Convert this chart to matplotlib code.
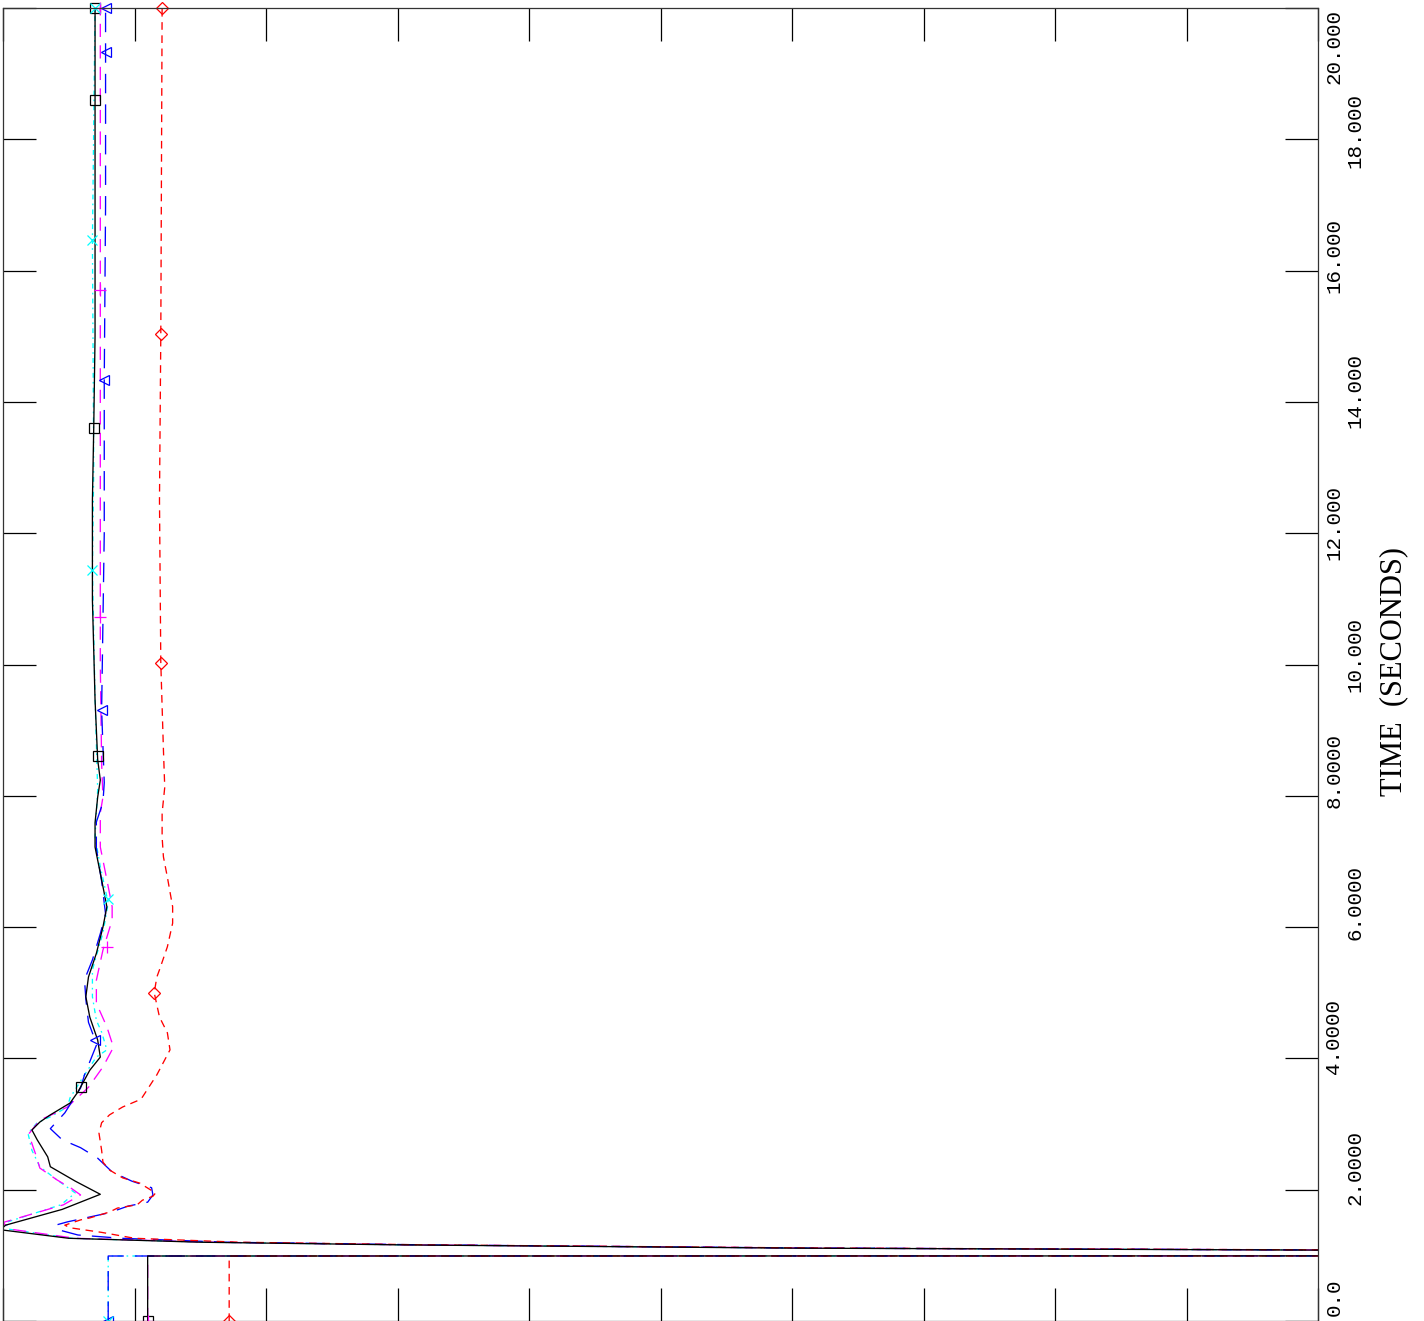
import matplotlib
matplotlib.use("Agg")
import matplotlib.pyplot as plt
import matplotlib.transforms as mtransforms

plt.rcParams["lines.scale_dashes"] = False

# time (s) on the vertical axis, response value on the horizontal axis
t_blk = [0.0, 0.99, 1.00, 1.08, 1.11, 1.16, 1.20, 1.26, 1.39, 1.46, 1.70, 1.93, 2.13,
         2.35, 2.50, 2.76, 2.91, 3.03, 3.14, 3.32, 3.49, 3.82, 4.02, 4.28, 4.63, 4.94,
         5.24, 5.60, 6.00, 6.31, 6.72, 7.22, 7.59, 7.98, 8.24, 8.55, 9.46, 10.98, 12.5,
         13.6, 15.0, 17.0, 18.6, 20.0]
v_blk = [1.10, 1.10, 60.0, 10.0, 6.0, 3.0, 1.5, 0.50, -0.02, 0.02, 0.45, 0.74, 0.55,
         0.36, 0.34, 0.26, 0.22, 0.28, 0.36, 0.51, 0.57, 0.66, 0.74, 0.72, 0.66, 0.63,
         0.65, 0.71, 0.76, 0.79, 0.75, 0.70, 0.70, 0.72, 0.74, 0.72, 0.70, 0.68, 0.68,
         0.69, 0.70, 0.70, 0.70, 0.70]

t_red = [0.0, 0.99, 1.00, 1.08, 1.11, 1.16, 1.20, 1.26, 1.35, 1.42, 1.46, 1.54, 1.57,
         1.66, 1.72, 1.77, 1.84, 1.90, 1.95, 2.10, 2.18, 2.30, 2.42, 2.60, 2.86, 3.02,
         3.14, 3.26, 3.37, 3.41, 3.75, 4.13, 4.39, 4.63, 5.00, 5.24, 5.35, 5.70, 6.06,
         6.31, 6.76, 7.07, 7.37, 7.74, 8.13, 8.70, 10.02, 12.5, 15.03, 20.0]
v_red = [1.72, 1.72, 60.0, 10.5, 6.3, 3.2, 1.8, 1.0, 0.75, 0.51, 0.47, 0.59, 0.66,
         0.81, 0.87, 1.02, 1.06, 1.14, 1.16, 1.04, 0.91, 0.81, 0.76, 0.75, 0.73, 0.75,
         0.81, 0.91, 1.04, 1.06, 1.17, 1.27, 1.25, 1.19, 1.15, 1.17, 1.19, 1.25, 1.29,
         1.29, 1.25, 1.22, 1.21, 1.21, 1.23, 1.22, 1.20, 1.19, 1.20, 1.21]

t_blu = [0.0, 0.99, 1.00, 1.08, 1.11, 1.16, 1.20, 1.26, 1.31, 1.39, 1.46, 1.51, 1.58,
         1.65, 1.75, 1.81, 1.92, 2.03, 2.13, 2.27, 2.48, 2.64, 2.76, 2.93, 3.17, 3.55,
         3.75, 4.20, 4.28, 4.55, 4.90, 5.20, 5.50, 5.90, 6.20, 6.70, 7.20, 7.60, 7.90,
         8.20, 9.31, 12.0, 14.33, 17.0, 19.33, 20.0]
v_blu = [0.80, 0.80, 60.0, 10.3, 6.2, 3.2, 1.7, 0.90, 0.57, 0.42, 0.40, 0.49, 0.65,
         0.81, 0.95, 1.10, 1.14, 1.13, 0.98, 0.83, 0.72, 0.59, 0.45, 0.36, 0.47, 0.59,
         0.62, 0.71, 0.70, 0.65, 0.63, 0.62, 0.68, 0.74, 0.78, 0.75, 0.71, 0.71, 0.76,
         0.77, 0.75, 0.77, 0.77, 0.78, 0.78, 0.78]

t_mag = [0.0, 0.99, 1.00, 1.08, 1.11, 1.16, 1.20, 1.26, 1.40, 1.50, 1.77, 1.92, 2.02,
         2.15, 2.33, 2.53, 2.76, 2.86, 3.06, 3.17, 3.26, 3.56, 3.87, 4.17, 4.48, 4.84,
         5.19, 5.65, 6.11, 6.31, 6.72, 7.22, 7.74, 7.98, 8.5, 10.0, 12.0, 15.0, 20.0]
v_mag = [1.10, 1.10, 60.0, 10.3, 6.2, 3.1, 1.6, 0.55, 0.05, 0.0, 0.46, 0.59, 0.52,
         0.41, 0.28, 0.25, 0.21, 0.20, 0.28, 0.40, 0.49, 0.65, 0.76, 0.84, 0.79, 0.71,
         0.71, 0.76, 0.83, 0.83, 0.79, 0.74, 0.74, 0.76, 0.75, 0.74, 0.74, 0.74, 0.74]

t_cyn = [0.0, 0.99, 1.00, 1.08, 1.11, 1.16, 1.20, 1.26, 1.40, 1.50, 1.77, 1.95, 2.15,
         2.35, 2.60, 2.86, 3.02, 3.11, 3.26, 3.40, 3.72, 4.02, 4.13, 4.40, 4.58, 4.94,
         5.35, 5.91, 6.37, 6.92, 7.37, 7.74, 8.09, 9.5, 11.44, 13.0, 16.45, 20.0]
v_cyn = [0.80, 0.80, 60.0, 10.2, 6.1, 3.05, 1.55, 0.52, 0.04, 0.02, 0.44, 0.55, 0.41,
         0.28, 0.22, 0.19, 0.26, 0.36, 0.49, 0.51, 0.61, 0.71, 0.79, 0.75, 0.71, 0.68,
         0.68, 0.76, 0.80, 0.74, 0.70, 0.71, 0.72, 0.70, 0.68, 0.69, 0.68, 0.70]

# symbol positions along each curve
mk_blk_t = [0.0, 3.57, 8.6, 13.6, 18.6, 20.0]
mk_blk_v = [1.10, 0.59, 0.72, 0.69, 0.70, 0.70]
mk_red_t = [0.0, 5.0, 10.02, 15.03, 20.0]
mk_red_v = [1.72, 1.15, 1.20, 1.20, 1.21]
mk_blu_t = [0.0, 4.28, 9.31, 14.33, 19.33, 20.0]
mk_blu_v = [0.80, 0.70, 0.75, 0.77, 0.78, 0.78]
mk_mag_t = [0.0, 5.7, 10.72, 15.7, 20.0]
mk_mag_v = [1.10, 0.79, 0.74, 0.74, 0.74]
mk_cyn_t = [0.0, 6.43, 11.44, 16.47, 20.0]
mk_cyn_v = [0.80, 0.80, 0.68, 0.68, 0.70]

time_ticks = [0, 2, 4, 6, 8, 10, 12, 14, 16, 18, 20]
time_labels = ["0.0", "2.0000", "4.0000", "6.0000", "8.0000", "10.000",
               "12.000", "14.000", "16.000", "18.000", "20.000"]
value_ticks = [0, 1, 2, 3, 4, 5, 6, 7, 8, 9, 10]

W, H = 1424, 1321
fig = plt.figure(figsize=(W / 100, H / 100), dpi=100)
ax = fig.add_axes([3 / W, 0, 1315 / W, 1313 / H])

lw = 0.95
ax.plot(v_cyn, t_cyn, color="#00ffff", lw=lw, ls=(0, (3.5, 3, 1.2, 3)))
ax.plot(v_mag, t_mag, color="#ff00ff", lw=lw, ls=(0, (9.5, 6)))
ax.plot(v_blu, t_blu, color="#0000ff", lw=lw, ls=(0, (14, 8)))
ax.plot(v_red, t_red, color="#ff0000", lw=lw, ls=(0, (5.5, 4)))
ax.plot(v_blk, t_blk, color="black", lw=lw)

ms = 7
ax.plot(mk_blk_v, mk_blk_t, ls="none", marker="s", ms=ms, mfc="none", mec="black", mew=0.9, clip_on=False)
ax.plot(mk_red_v, mk_red_t, ls="none", marker="D", ms=6, mfc="none", mec="#ff0000", mew=0.9, clip_on=False)
ax.plot(mk_blu_v, mk_blu_t, ls="none", marker="<", ms=ms, mfc="none", mec="#0000ff", mew=0.9, clip_on=False)
ax.plot(mk_mag_v, mk_mag_t, ls="none", marker="+", ms=9, mec="#ff00ff", mew=0.9, clip_on=False)
ax.plot(mk_cyn_v, mk_cyn_t, ls="none", marker="x", ms=ms, mec="#00ffff", mew=0.9, clip_on=False)

ax.set_xlim(0, 10)
ax.set_ylim(0, 20)
ax.set_xticks(value_ticks)
ax.set_yticks(time_ticks)
ax.tick_params(axis="both", direction="in", length=24, width=0.9,
               top=True, bottom=True, left=True, right=True,
               labelbottom=False, labelleft=False, labeltop=False, labelright=False)
for s in ax.spines.values():
    s.set_linewidth(0.9)
    s.set_color("#333333")

# rotated time labels to the right, alternating columns
label_dy_px = [24, 22, 22, 25, 25, 10, 11, 11, 15, 9, -39]
label_col_px = [1334, 1355]
for i, (tv, lab) in enumerate(zip(time_ticks, time_labels)):
    off = mtransforms.ScaledTranslation(0, label_dy_px[i] / 100, fig.dpi_scale_trans)
    trans = mtransforms.blended_transform_factory(fig.transFigure, ax.transData) + off
    ax.text(label_col_px[i % 2] / W, tv, lab, transform=trans, rotation=90,
            ha="center", va="center", fontsize=15, family="Liberation Mono",
            clip_on=False)

fig.text(1394 / W, 1 - 672 / H, "TIME  (SECONDS)", rotation=90, ha="center",
         va="center", fontsize=22, family="Liberation Serif")

fig.savefig("out.png", dpi=100)
